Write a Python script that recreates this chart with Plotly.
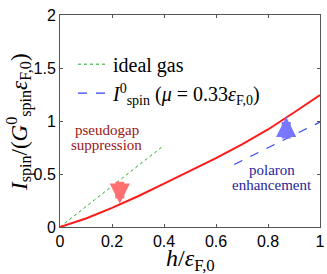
import plotly.graph_objects as go

# Data
h_red = [0.0, 0.1, 0.2, 0.3, 0.4, 0.5, 0.6, 0.7, 0.8, 0.9, 1.0]
I_red = [0.0, 0.08, 0.18, 0.29, 0.41, 0.53, 0.65, 0.78, 0.92, 1.08, 1.245]
h_ideal = [0.0, 0.4]
I_ideal = [0.0, 0.77]
h_pol = [0.67, 0.8, 0.9, 1.0]
I_pol = [0.59, 0.75, 0.87, 0.99]

serif = "Liberation Serif, Times New Roman, DejaVu Serif, serif"
sans = "Liberation Sans, Arial, sans-serif"

fig = go.Figure()
fig.add_trace(go.Scatter(x=h_ideal, y=I_ideal, mode="lines",
                         line=dict(color="#22aa22", width=1, dash="dot"),
                         name="ideal gas"))
fig.add_trace(go.Scatter(x=h_pol, y=I_pol, mode="lines",
                         line=dict(color="#3344ee", width=1.2, dash="dash"),
                         name="<i>I</i><sup>0</sup><sub>spin</sub> (<i>μ</i> = 0.33<i>ε</i><sub>F,0</sub>)"))
fig.add_trace(go.Scatter(x=h_red, y=I_red, mode="lines",
                         line=dict(color="#ff1a1a", width=2),
                         showlegend=False))

# arrows
fig.add_annotation(x=0.23, y=0.22, ax=0.23, ay=0.44, xref="x", yref="y",
                   axref="x", ayref="y", showarrow=True, arrowhead=2,
                   arrowsize=0.45, arrowwidth=9, arrowcolor="#ff7070", text="")
fig.add_annotation(x=0.87, y=1.04, ax=0.87, ay=0.82, xref="x", yref="y",
                   axref="x", ayref="y", showarrow=True, arrowhead=2,
                   arrowsize=0.45, arrowwidth=9, arrowcolor="#7777ff", text="")

for txt, xx, yy, col in [("pseudogap", 0.18, 0.915, "#9a1515"),
                         ("suppression", 0.18, 0.775, "#9a1515"),
                         ("polaron", 0.815, 0.54, "#2525a0"),
                         ("enhancement", 0.815, 0.40, "#2525a0")]:
    fig.add_annotation(x=xx, y=yy, text=txt, showarrow=False,
                       font=dict(family=serif, size=15, color=col),
                       xref="x", yref="y")

# axis titles
fig.add_annotation(x=0.5, y=0, xref="paper", yref="paper", yshift=-33,
                   xanchor="center", yanchor="middle",
                   text="<i>h</i>/<i>ε</i><sub>F,0</sub>", showarrow=False,
                   font=dict(family=serif, size=24, color="black"))
fig.add_annotation(x=0, y=0.5, xref="paper", yref="paper", xshift=-41, yshift=-1,
                   xanchor="center", yanchor="middle",
                   text="<i>I</i><sub>spin</sub>/(<i>G</i><sup>0</sup><sub>spin</sub><i>ε</i><sub>F,0</sub>)",
                   textangle=-90, showarrow=False,
                   font=dict(family=serif, size=23, color="black"))

fig.update_layout(
    width=327, height=274,
    margin=dict(l=60, r=7, t=15, b=47),
    paper_bgcolor="white", plot_bgcolor="white",
    legend=dict(x=0.05, y=0.86, xanchor="left", yanchor="top",
                bgcolor="rgba(0,0,0,0)", font=dict(family=serif, size=20, color="black"),
                tracegroupgap=0, itemwidth=30),
    xaxis=dict(range=[0, 1], tickvals=[0, 0.2, 0.4, 0.6, 0.8, 1],
               ticktext=["0", "0.2", "0.4", "0.6", "0.8", "1"], automargin=False,
               showgrid=False, zeroline=False, showline=True, mirror="ticks",
               linecolor="#555", linewidth=1, ticks="inside", ticklen=3, tickcolor="#555",
               tickfont=dict(family=sans, size=16, color="black")),
    yaxis=dict(range=[0, 2], tickvals=[0, 0.5, 1, 1.5, 2],
               ticktext=["0", "0.5", "1", "1.5", "2"], automargin=False,
               showgrid=False, zeroline=False, showline=True, mirror="ticks",
               linecolor="#555", linewidth=1, ticks="inside", ticklen=3, tickcolor="#555",
               tickfont=dict(family=sans, size=16, color="black")),
)

fig.write_html("out.html", config={"displayModeBar": False},
               post_script="document.body.style.margin='0';")
